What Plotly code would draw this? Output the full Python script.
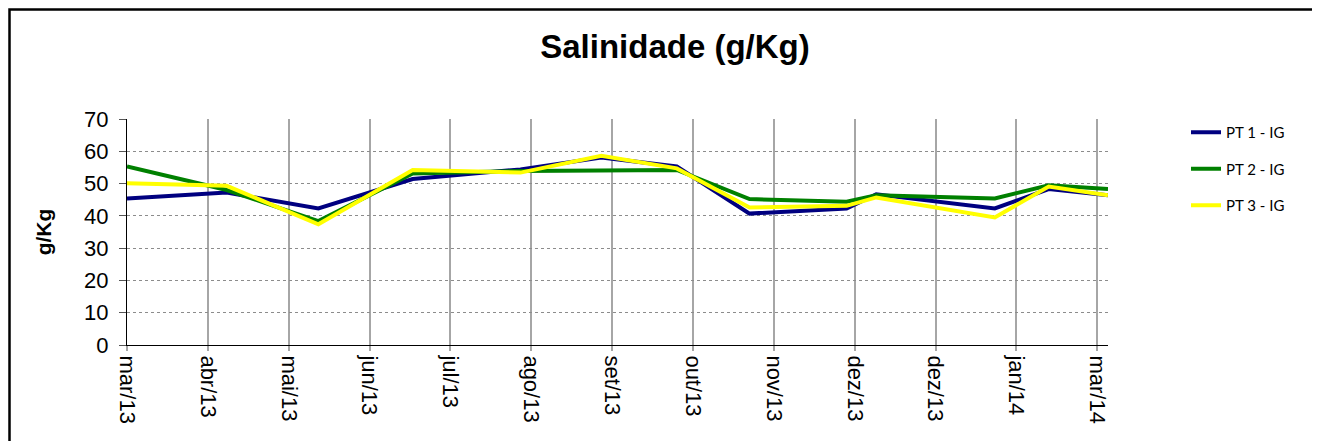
import plotly.graph_objects as go

# ---- data ----
dates = ["2013-03-06", "2013-04-12", "2013-05-16", "2013-06-20", "2013-07-30",
         "2013-08-29", "2013-09-26", "2013-10-23", "2013-11-28", "2013-12-09",
         "2014-01-22", "2014-02-11", "2014-03-05"]
pt1 = [45.4, 47.2, 42.3, 51.4, 54.4, 58.1, 55.3, 40.7, 42.3, 46.7, 42.3, 48.3, 46.4]
pt2 = [55.3, 48.0, 38.4, 53.1, 53.9, 54.2, 54.2, 45.2, 44.4, 46.4, 45.4, 49.5, 48.3]
pt3 = [50.1, 49.3, 37.4, 54.2, 53.4, 58.6, 54.7, 42.6, 43.1, 45.7, 39.5, 49.1, 46.4]
series_names = ["PT 1 - IG", "PT 2 - IG", "PT 3 - IG"]
series_colors = ["#000080", "#008000", "#FFFF00"]

tick_dates = ["2013-03-06", "2013-04-05", "2013-05-05", "2013-06-04", "2013-07-04",
              "2013-08-03", "2013-09-02", "2013-10-02", "2013-11-01", "2013-12-01",
              "2013-12-31", "2014-01-30", "2014-03-01"]
tick_labels = ["mar/13", "abr/13", "mai/13", "jun/13", "jul/13", "ago/13", "set/13",
               "out/13", "nov/13", "dez/13", "dez/13", "jan/14", "mar/14"]
y_ticks = [0, 10, 20, 30, 40, 50, 60, 70]

fig = go.Figure()
for i, (name, vals, col) in enumerate(zip(series_names, [pt1, pt2, pt3], series_colors)):
    fig.add_trace(go.Scatter(x=dates, y=vals, mode="lines", name=name,
                             legendgroup=f"g{i}",
                             line=dict(color=col, width=4)))

# page body has an 8px default margin -> work in page pixels, subtract offset
OFF = 8
W, H = 1320 - OFF, 441 - OFF
L, T = 127 - OFF, 119 - OFF
pw, ph = 981, 226
R, B = W - L - pw, H - T - ph

def px_x(p):
    return (p - OFF - L) / pw

def px_y(p):
    return (T + ph - (p - OFF)) / ph

fig.update_layout(
    width=W, height=H,
    margin=dict(l=L, r=R, t=T, b=B, autoexpand=False),
    paper_bgcolor="white", plot_bgcolor="white",
    font=dict(family="Liberation Sans, Arial, sans-serif", color="black"),
    title=dict(text="<b>Salinidade (g/Kg)</b>", font=dict(size=33, color="black"),
               x=px_x(675), xref="paper", xanchor="center",
               y=1 - (46 - OFF) / H, yref="container", yanchor="middle"),
    showlegend=True,
    legend=dict(x=px_x(1186), y=px_y(116), xanchor="left", yanchor="top",
                font=dict(family="Lato, sans-serif", size=15, color="black"),
                tracegroupgap=14, bgcolor="rgba(0,0,0,0)"),
    xaxis=dict(type="date", range=["2013-03-06", "2014-03-05"],
               tickmode="array", tickvals=tick_dates, ticktext=tick_labels,
               tickangle=90, tickfont=dict(size=22, color="black"),
               showgrid=True, gridcolor="#a6a6a6", gridwidth=1.5,
               showline=True, linecolor="black", linewidth=1,
               ticks="outside", ticklen=5, tickcolor="#a6a6a6", tickwidth=1.5,
               zeroline=False, fixedrange=True),
    yaxis=dict(range=[0, 70], tickmode="array", tickvals=y_ticks,
               tickfont=dict(size=22, color="black"), ticklabelstandoff=6,
               showgrid=True, gridcolor="#8c8c8c", gridwidth=1, griddash="dot",
               showline=True, linecolor="black", linewidth=1,
               ticks="outside", ticklen=7, tickcolor="#555555",
               zeroline=False,
               title=dict(text="<b>g/Kg</b>", font=dict(size=21, color="black"), standoff=26)),
)

# outer chart frame (bottom edge lies below the visible window, as in the reference)
fig.add_shape(type="rect", xref="paper", yref="paper",
              x0=px_x(OFF + 1.5), x1=px_x(1318.5), y0=px_y(470), y1=px_y(OFF + 1.5),
              line=dict(color="black", width=2.5), fillcolor="rgba(0,0,0,0)", layer="above")

fig.write_html("out.html")
